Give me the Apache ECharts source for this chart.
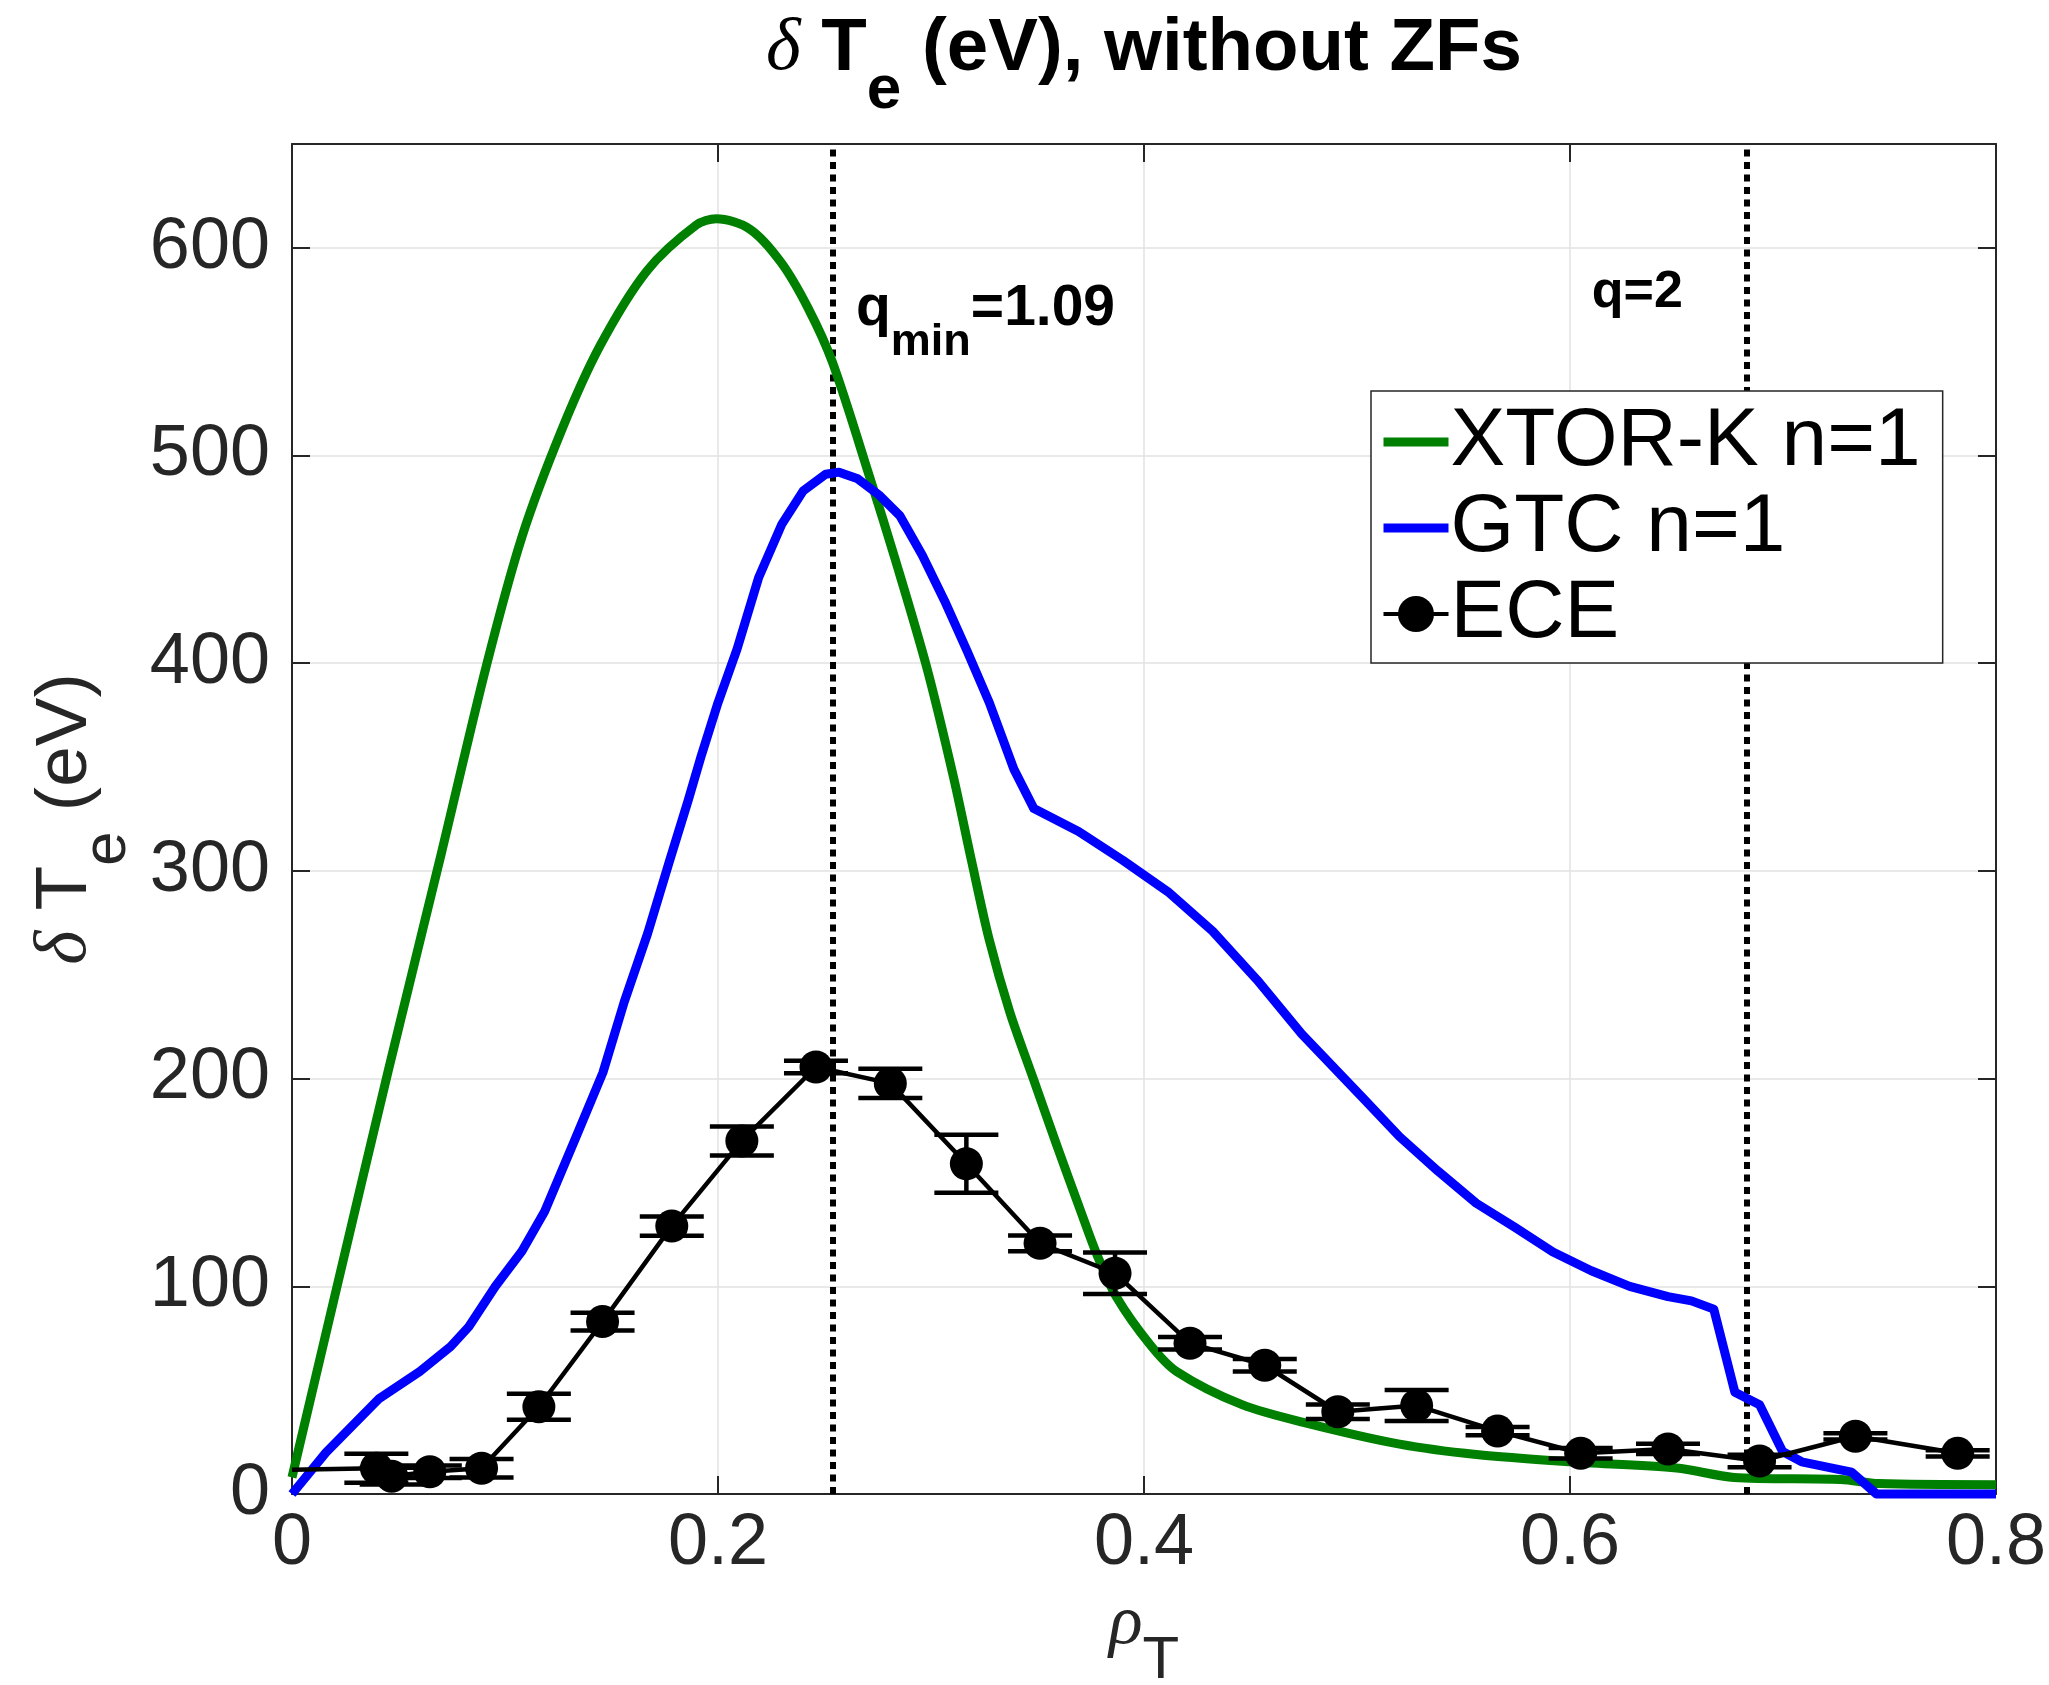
<!DOCTYPE html>
<html><head><meta charset="utf-8">
<script src="https://cdn.jsdelivr.net/npm/echarts@6/dist/echarts.min.js"></script>
<style>html,body{margin:0;padding:0;background:#fff}#c{width:2049px;height:1685px}</style>
</head><body><div id="c"></div>
<script>
// ---- data ----
const xtorRho = [0, 0.02, 0.045, 0.070, 0.0913, 0.108, 0.1269, 0.1447, 0.1667, 0.1898, 0.1992, 0.215, 0.2296, 0.2423, 0.2537, 0.2714, 0.2835, 0.298, 0.3106, 0.319, 0.3273, 0.337, 0.348, 0.359, 0.370, 0.378, 0.387, 0.4028, 0.4153, 0.446, 0.4767, 0.520, 0.556, 0.600, 0.650, 0.677, 0.727, 0.745, 0.800];
const xtorVal = [8, 95, 203, 308, 399, 461, 513, 553, 589, 611, 614, 609, 593, 571, 545, 489, 449, 398, 345, 305, 267, 232, 200, 168, 137, 115, 95, 72, 59, 43, 34, 24, 19, 15.5, 12.5, 8, 7, 5, 4.5];

const gtcRho = [0, 0.016, 0.041, 0.060, 0.0745, 0.083, 0.0955, 0.108, 0.1186, 0.133, 0.146, 0.156, 0.167, 0.177, 0.186, 0.192, 0.200, 0.209, 0.219, 0.230, 0.240, 0.2506, 0.2568, 0.2653, 0.2756, 0.2854, 0.2959, 0.3064, 0.3169, 0.3274, 0.3389, 0.3483, 0.3693, 0.3902, 0.4112, 0.4322, 0.4531, 0.474, 0.5034, 0.520, 0.538, 0.556, 0.574, 0.592, 0.610, 0.628, 0.646, 0.657, 0.6675, 0.6774, 0.689, 0.6998, 0.7088, 0.7322, 0.7439, 0.800];
const gtcVal = [0, 20, 46, 59, 71, 80.5, 100, 117, 136, 171, 203, 237, 270, 304, 334, 355, 381, 407, 441, 467, 483, 491, 492, 489, 481, 471, 452, 430, 406, 381, 349, 330, 319, 305, 290, 271, 247.5, 221.5, 190, 172, 155.5, 140, 128.5, 116.5, 107.5, 100, 95, 93, 89, 49, 43, 20.5, 15.5, 10.5, 0, 0];

const eceRho = [0, 0.0396, 0.0468, 0.0647, 0.089, 0.1159, 0.1458, 0.1783, 0.2112, 0.246, 0.2809, 0.3166, 0.3512, 0.3864, 0.4216, 0.4567, 0.491, 0.528, 0.566, 0.605, 0.646, 0.689, 0.734, 0.782];
const eceVal = [11.7, 12.4, 8.6, 10.7, 12.4, 42, 83, 129, 170, 205.6, 197.7, 159, 120.7, 106.3, 72.6, 62, 39.6, 42.6, 30.3, 19.6, 21.7, 15.9, 27.8, 19.6];
const eceErr = [0, 7, 4, 3, 4.5, 6.3, 4.3, 4.6, 7, 3, 7, 14, 3.8, 10, 3, 3, 3.5, 7.5, 2, 2.5, 2.5, 3, 1.5, 1.5];

const vlineRho = [0.2538, 0.683];
const annotRho = [0.2648, 0.653];
const annotVal = [570.6, 578.6];
const annotText = ['{q|q}{s|min}{q|=1.09}', '{r|q=2}'];

const seriesNames = ['XTOR-K n=1', 'GTC n=1', 'ECE'];
const xTicks = {min: 0, max: 0.8, interval: 0.2};
const yTicks = {min: 0, max: 650, interval: 100, lastLabel: 600};

// ---- chart ----
const SANS = '"Liberation Sans", Arial, Helvetica, sans-serif';
const SERIF = '"Liberation Serif", "Times New Roman", serif';
const AX = '#262626';
const GRIDC = '#e2e2e2';

const chart = echarts.init(document.getElementById('c'), null, {renderer: 'canvas'});

const axisCommon = {
  axisLine: {show: true, onZero: false, lineStyle: {color: AX, width: 2}},
  axisTick: {show: true, inside: true, length: 18, lineStyle: {color: AX, width: 2}}
};

const option = {
  animation: false,
  backgroundColor: '#fff',
  title: {
    text: '{d|δ}{b| T}{s|e}{b| (eV), without ZFs}',
    left: 1144, top: 12, textAlign: 'center', padding: 0,
    textStyle: {
      fontFamily: SANS, fontWeight: 'bold', fontSize: 74.5, color: '#000',
      rich: {
        d: {fontFamily: SERIF, fontStyle: 'italic', fontWeight: 'normal', fontSize: 74.5, lineHeight: 74, verticalAlign: 'top', color: '#000'},
        b: {fontFamily: SANS, fontWeight: 'bold', fontSize: 74.5, lineHeight: 74, verticalAlign: 'top', color: '#000'},
        s: {fontFamily: SANS, fontWeight: 'bold', fontSize: 62, lineHeight: 62, padding: [48, 0, 0, 0], verticalAlign: 'top', color: '#000'}
      }
    }
  },
  grid: {left: 292, right: 53, top: 144, bottom: 191, containLabel: false, outerBoundsMode: 'none'},
  legend: {
    data: [
      {name: seriesNames[0], itemStyle: {opacity: 0}, lineStyle: {width: 9}},
      {name: seriesNames[1], itemStyle: {opacity: 0}, lineStyle: {width: 9}},
      {name: seriesNames[2], lineStyle: {width: 4}}
    ],
    orient: 'vertical', left: 1371, top: 391,
    itemWidth: 65, itemHeight: 45, itemGap: 4,
    padding: [10, 22, 8, 8],
    backgroundColor: '#fff', borderColor: AX, borderWidth: 1.5, borderRadius: 0,
    textStyle: {fontFamily: SANS, fontSize: 82, color: '#000', padding: [0, 0, 0, -3]},
    selectedMode: false, z: 20
  },
  xAxis: [
    Object.assign({
      type: 'value', position: 'bottom', min: xTicks.min, max: xTicks.max, interval: xTicks.interval,
      axisLabel: {fontFamily: SANS, fontSize: 72, color: AX, margin: 14},
      splitLine: {show: true, lineStyle: {color: GRIDC, width: 1.5}},
      name: '{r|ρ}{s|T}', nameLocation: 'middle', nameGap: 96,
      nameTextStyle: {
        color: AX,
        rich: {
          r: {fontFamily: SERIF, fontStyle: 'italic', fontSize: 70, lineHeight: 70, verticalAlign: 'top', color: AX},
          s: {fontFamily: SANS, fontSize: 60, lineHeight: 60, padding: [41, 0, 0, 0], verticalAlign: 'top', color: AX}
        }
      }
    }, axisCommon),
    Object.assign({
      type: 'value', position: 'top', min: xTicks.min, max: xTicks.max, interval: xTicks.interval,
      axisLabel: {show: false}, splitLine: {show: false}
    }, axisCommon)
  ],
  yAxis: [
    Object.assign({
      type: 'value', position: 'left', min: yTicks.min, max: yTicks.max, interval: yTicks.interval,
      axisLabel: {fontFamily: SANS, fontSize: 72, color: AX, margin: 22,
        formatter: v => (v > yTicks.lastLabel ? '' : String(v))},
      splitLine: {show: true, lineStyle: {color: GRIDC, width: 1.5}},
      name: '{d|δ}{b| T}{s|e}{b| (eV)}', nameLocation: 'middle', nameGap: 151,
      nameTextStyle: {
        color: AX,
        rich: {
          d: {fontFamily: SERIF, fontStyle: 'italic', fontSize: 73, lineHeight: 73, verticalAlign: 'top', color: AX},
          b: {fontFamily: SANS, fontSize: 73, lineHeight: 73, verticalAlign: 'top', color: AX},
          s: {fontFamily: SANS, fontSize: 62, lineHeight: 62, padding: [48, 0, 0, 0], verticalAlign: 'top', color: AX}
        }
      }
    }, axisCommon),
    Object.assign({
      type: 'value', position: 'right', min: yTicks.min, max: yTicks.max, interval: yTicks.interval,
      axisLabel: {show: false}, splitLine: {show: false}
    }, axisCommon)
  ],
  series: [
    {
      name: seriesNames[0], type: 'line', xAxisIndex: 0, yAxisIndex: 0,
      data: xtorRho.map((r, i) => [r, xtorVal[i]]),
      symbol: 'none', showSymbol: false, smooth: 0.3, clip: false,
      lineStyle: {color: '#008000', width: 9, join: 'round'}, itemStyle: {color: '#008000'}, z: 2
    },
    {
      name: seriesNames[1], type: 'line', xAxisIndex: 0, yAxisIndex: 0,
      data: gtcRho.map((r, i) => [r, gtcVal[i]]),
      symbol: 'none', showSymbol: false, clip: false,
      lineStyle: {color: '#0000ff', width: 9, join: 'round'}, itemStyle: {color: '#0000ff'}, z: 3
    },
    {
      name: 'ECE error', type: 'custom', xAxisIndex: 0, yAxisIndex: 0,
      data: eceRho.map((r, i) => [r, eceVal[i] - eceErr[i], eceVal[i] + eceErr[i]]).filter(d => d[2] > d[1]),
      encode: {x: 0, y: [1, 2]}, silent: true, clip: false, z: 4,
      renderItem: function (params, api) {
        const lo = api.coord([api.value(0), api.value(1)]);
        const hi = api.coord([api.value(0), api.value(2)]);
        const hw = 32;
        const st = {stroke: '#000', lineWidth: 4.5};
        return {type: 'group', children: [
          {type: 'line', shape: {x1: lo[0], y1: lo[1], x2: hi[0], y2: hi[1]}, style: st},
          {type: 'line', shape: {x1: lo[0] - hw, y1: lo[1], x2: lo[0] + hw, y2: lo[1]}, style: st},
          {type: 'line', shape: {x1: hi[0] - hw, y1: hi[1], x2: hi[0] + hw, y2: hi[1]}, style: st}
        ]};
      }
    },
    {
      name: seriesNames[2], type: 'line', xAxisIndex: 0, yAxisIndex: 0,
      data: eceRho.map((r, i) => (eceErr[i] > 0 ? [r, eceVal[i]] : {value: [r, eceVal[i]], symbol: 'none'})),
      symbol: 'circle', symbolSize: 33, showSymbol: true, showAllSymbol: true, clip: false,
      lineStyle: {color: '#000', width: 4.5}, itemStyle: {color: '#000'}, z: 5,
      markLine: {
        silent: true, symbol: ['none', 'none'], label: {show: false}, z: 1, precision: 6,
        lineStyle: {color: '#000', width: 6, type: [7, 5.5]},
        data: vlineRho.map(v => ({xAxis: v}))
      }
    },
    {
      name: 'annotations', type: 'scatter', xAxisIndex: 0, yAxisIndex: 0, silent: true,
      symbolSize: 0.01, itemStyle: {color: 'rgba(0,0,0,0)'}, z: 6,
      data: annotRho.map((r, i) => ({value: [r, annotVal[i]], label: {position: i === 0 ? 'right' : 'left'}})),
      label: {
        show: true, distance: 0, color: '#000', opacity: 1, textBorderWidth: 0,
        formatter: p => annotText[p.dataIndex],
        rich: {
          q: {fontFamily: SANS, fontWeight: 'bold', fontSize: 57, lineHeight: 57, verticalAlign: 'top', color: '#000'},
          s: {fontFamily: SANS, fontWeight: 'bold', fontSize: 45, lineHeight: 45, padding: [40, 0, 0, 0], verticalAlign: 'top', color: '#000'},
          r: {fontFamily: SANS, fontWeight: 'bold', fontSize: 52, lineHeight: 52, color: '#000'}
        }
      }
    }
  ]
};
chart.setOption(option);
</script>
</body></html>
